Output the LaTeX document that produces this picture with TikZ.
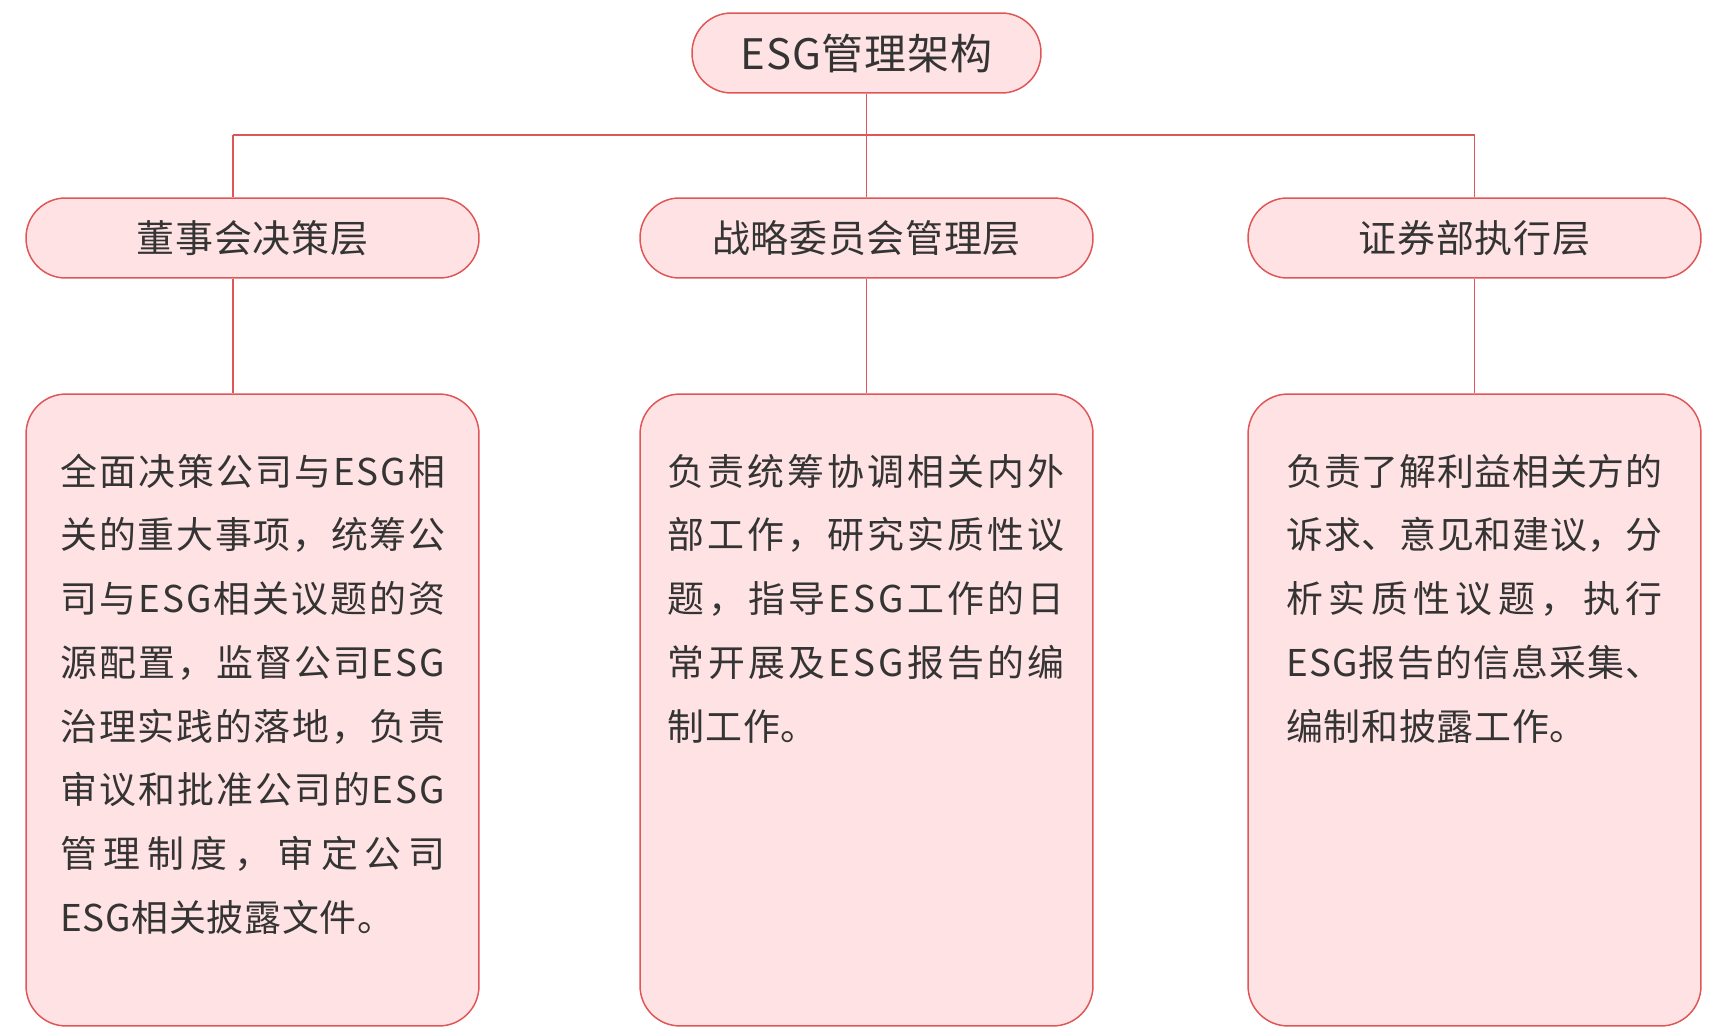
\documentclass[tikz,border=0pt]{standalone}
\usepackage{fontspec}
\setmainfont[LetterSpace=2]{Noto Sans CJK SC}
\usepackage{tikz}
\definecolor{boxred}{RGB}{224,86,86}
\definecolor{boxpink}{RGB}{255,227,228}
\definecolor{txtgray}{RGB}{52,52,52}

% one justified line: glue between every character
\makeatletter
\newcommand\jline[1]{\leavevmode\hbox to\linewidth{\@tfor\jchar:=#1\do{\jchar\hskip 0pt plus 1fil minus 1pt}\unskip}\par}
\makeatother

\begin{document}
\begin{tikzpicture}[x=0.02cm, y=-0.02cm,
    title/.style={draw=boxred,fill=boxpink,line width=0.85pt,rounded corners=0.79cm,minimum width=6.98cm,minimum height=1.6cm,text=txtgray,font=\fontsize{23.9pt}{28pt}\selectfont},
    layer/.style={draw=boxred,fill=boxpink,line width=0.85pt,rounded corners=0.79cm,minimum width=9.06cm,minimum height=1.6cm,text=txtgray,font=\fontsize{21.6pt}{26pt}\selectfont},
    panel/.style={draw=boxred,fill=boxpink,line width=0.85pt,rounded corners=0.8cm,minimum width=9.06cm,minimum height=12.64cm},
    body/.style={anchor=base west,inner sep=0pt,align=left,text=txtgray,font=\fontsize{21pt}{36.3pt}\selectfont},
    link/.style={draw=boxred,line width=0.85pt},
]
\useasboundingbox (0,0) rectangle (1716,1027);

\node[title] (top) at (866.5,53) {ESG管理架构};

\node[layer] (l1) at (252.5,238) {董事会决策层};
\node[layer] (l2) at (866.5,238) {战略委员会管理层};
\node[layer] (l3) at (1474.5,238) {证券部执行层};

\node[panel] (p1) at (252.5,710) {};
\node[panel] (p2) at (866.5,710) {};
\node[panel] (p3) at (1474.5,710) {};

\node[body,text width=7.7cm] (t1) at (60,485) {\jline{全面决策公司与ESG相}
\jline{关的重大事项，统筹公}
\jline{司与ESG相关议题的资}
\jline{源配置，监督公司ESG}
\jline{治理实践的落地，负责}
\jline{审议和批准公司的ESG}
\jline{管理制度，审定公司}
ESG相关披露文件。};
\node[body,text width=7.94cm] (t2) at (667.6,485) {\jline{负责统筹协调相关内外}
\jline{部工作，研究实质性议}
\jline{题，指导ESG工作的日}
\jline{常开展及ESG报告的编}
制工作。};
\node[body,text width=7.52cm] (t3) at (1286,485) {\jline{负责了解利益相关方的}
\jline{诉求、意见和建议，分}
\jline{析实质性议题，执行}
\jline{ESG报告的信息采集、}
编制和披露工作。};

\coordinate (k1) at (233,135);
\coordinate (k3) at (1474.5,135);
\draw[link] (top) -- (top |- k1);
\draw[link] (k1) -- (k3);
\draw[link] (k1) -- (k1 |- l1.north);
\draw[link] (top |- k1) -- (l2);
\draw[link] (k3) -- (l3);
\draw[link] (k1 |- l1.south) -- (k1 |- p1.north);
\draw[link] (l2) -- (p2);
\draw[link] (l3) -- (p3);
\end{tikzpicture}
\end{document}
